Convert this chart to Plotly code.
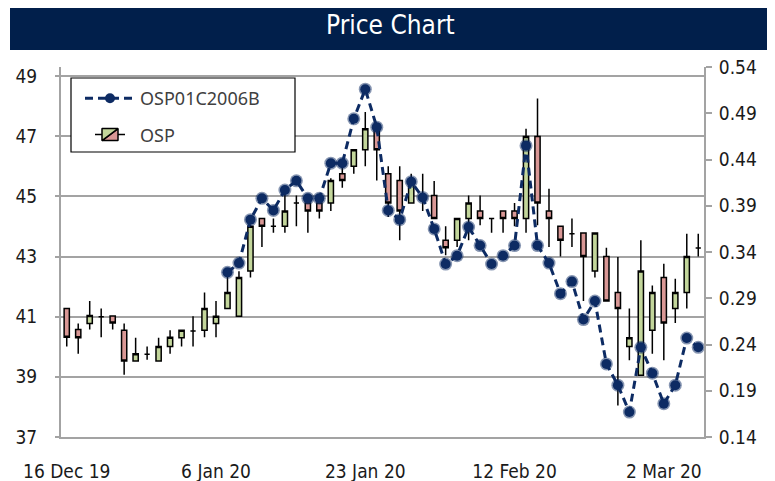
import plotly.graph_objects as go

# ---------------- data ----------------
dates = [
    "2019-12-16", "2019-12-17", "2019-12-18", "2019-12-19", "2019-12-20",
    "2019-12-23", "2019-12-24", "2019-12-26", "2019-12-27", "2019-12-30",
    "2019-12-31", "2020-01-02", "2020-01-03",
    "2020-01-06", "2020-01-07", "2020-01-08", "2020-01-09", "2020-01-10",
    "2020-01-13", "2020-01-14", "2020-01-15", "2020-01-16", "2020-01-17",
    "2020-01-20", "2020-01-21", "2020-01-22",
    "2020-01-23", "2020-01-24", "2020-01-28", "2020-01-29", "2020-01-30",
    "2020-01-31", "2020-02-03", "2020-02-04", "2020-02-05", "2020-02-06",
    "2020-02-07", "2020-02-10", "2020-02-11",
    "2020-02-12", "2020-02-13", "2020-02-14", "2020-02-17", "2020-02-18",
    "2020-02-19", "2020-02-20", "2020-02-21", "2020-02-24", "2020-02-25",
    "2020-02-26", "2020-02-27", "2020-02-28",
    "2020-03-02", "2020-03-03", "2020-03-04", "2020-03-05",
]

osp_open = [41.27, 40.57, 40.77, 41.00, 41.02, 40.55, 39.53, 39.75, 39.53, 40.01,
            40.30, 40.52, 40.55, 40.77, 41.27, 41.01, 42.52, 44.26, 44.01, 44.01,
            44.78, 44.78, 44.78, 44.78, 45.75, 46.00, 46.55, 47.25, 45.75, 45.53,
            44.78, 45.03, 45.03, 43.54, 43.54, 44.26, 44.51, 44.26, 44.51, 44.51,
            44.26, 46.99, 44.51, 44.01, 43.76, 43.78, 42.52, 43.00, 41.80, 40.01,
            39.05, 40.55, 42.30, 41.27, 41.80, 43.28]
osp_high = [41.27, 40.77, 41.52, 41.27, 41.02, 40.77, 40.30, 40.01, 40.30, 40.55,
            40.55, 41.01, 41.80, 41.52, 42.32, 42.51, 44.05, 44.26, 44.26, 45.25,
            45.03, 44.78, 44.78, 45.60, 46.00, 46.55, 47.80, 47.30, 46.00, 46.00,
            45.75, 45.75, 45.51, 44.01, 44.26, 45.03, 45.03, 44.26, 44.51, 44.78,
            47.25, 48.25, 45.25, 44.01, 44.26, 43.78, 43.78, 43.29, 42.98, 41.27,
            43.54, 42.04, 42.76, 42.26, 43.76, 43.76]
osp_low = [40.01, 39.77, 40.57, 40.32, 40.57, 39.07, 39.53, 39.57, 39.53, 39.77,
           40.01, 40.01, 40.32, 40.32, 41.27, 41.01, 42.30, 43.32, 43.79, 43.79,
           44.01, 43.79, 44.26, 44.51, 45.29, 45.75, 46.00, 45.53, 44.31, 43.54,
           44.78, 44.51, 44.26, 43.04, 43.32, 43.54, 44.04, 43.79, 43.79, 44.01,
           43.79, 44.04, 43.32, 43.00, 43.32, 41.52, 42.30, 41.52, 38.05, 39.55,
           39.05, 39.77, 39.55, 40.79, 41.27, 43.00]
osp_close = [40.32, 40.30, 41.04, 41.00, 40.79, 39.53, 39.77, 39.75, 40.01, 40.32,
             40.55, 40.52, 41.27, 41.01, 41.80, 42.30, 44.01, 44.01, 44.01, 44.51,
             44.78, 44.51, 44.51, 45.53, 45.53, 46.55, 47.25, 46.55, 44.78, 44.51,
             45.42, 45.03, 44.26, 43.29, 44.26, 44.78, 44.26, 44.26, 44.26, 44.26,
             46.99, 44.78, 44.26, 43.54, 43.76, 43.00, 43.78, 41.52, 41.27, 40.30,
             42.52, 41.80, 40.79, 41.80, 43.00, 43.28]

warrant = [None] * 14 + [
    0.318, 0.328, 0.375, 0.398, 0.385, 0.407, 0.417, 0.398, 0.398, 0.436,
    0.436, 0.484, 0.516, 0.475, 0.385, 0.375, 0.416, 0.399, 0.365, 0.327,
    0.336, 0.367, 0.347, 0.327, 0.336, 0.347, 0.455, 0.347, 0.328, 0.295,
    0.308, 0.267, 0.287, 0.219, 0.196, 0.167, 0.237, 0.209, 0.176, 0.196,
    0.247, 0.237]

tick_idx = [0, 13, 26, 39, 52]
tick_text = ["16 Dec 19", "6 Jan 20", "23 Jan 20", "12 Feb 20", "2 Mar 20"]
left_ticks = [37, 39, 41, 43, 45, 47, 49]
right_ticks = [0.14, 0.19, 0.24, 0.29, 0.34, 0.39, 0.44, 0.49, 0.54]

# ---------------- style / layout ----------------
# page body has an 8px default margin; size the figure so the visible
# window (775x481) matches the reference layout
OFF = 8
W, H = 775 - OFF, 481 - OFF
PLOT_L, PLOT_R, PLOT_T, PLOT_B = 61, 704, 67, 437          # reference page px
ML, MR = PLOT_L - OFF, W - (PLOT_R - OFF)
MT, MB = PLOT_T - OFF, H - (PLOT_B - OFF)
PW, PH = PLOT_R - PLOT_L, PLOT_B - PLOT_T


def px(x):
    return (x - PLOT_L) / PW


def py(y):
    return (PLOT_B - y) / PH


NAVY = "#0d2b63"
GRID = "#a3a3a3"
CONDENSED = "DejaVu Sans Condensed, Liberation Sans Narrow, Arial Narrow, sans-serif"
TICKFONT = dict(family=CONDENSED, size=19, color="#1a1a1a")

fig = go.Figure()

fig.add_trace(go.Scatter(
    x=dates, y=warrant, yaxis="y2", mode="markers", showlegend=False,
    marker=dict(color="rgba(13,43,99,0.5)", size=13, line=dict(width=0)),
    hoverinfo="skip", legendgroup="a",
))
fig.add_trace(go.Scatter(
    x=dates, y=warrant, name="OSP01C2006B", yaxis="y2",
    mode="lines+markers",
    line=dict(color=NAVY, width=3, dash="8px,5px"),
    marker=dict(color=NAVY, size=10, line=dict(width=0)),
    connectgaps=False, legendgroup="a",
))
fig.add_trace(go.Candlestick(
    x=dates, open=osp_open, high=osp_high, low=osp_low, close=osp_close,
    name="OSP", legendgroup="b",
    increasing=dict(line=dict(color="#000000", width=1.5), fillcolor="#c3d69b"),
    decreasing=dict(line=dict(color="#000000", width=1.5), fillcolor="#d99795"),
    whiskerwidth=0,
))

fig.update_layout(
    template="none",
    width=W, height=H,
    margin=dict(l=ML, r=MR, t=MT, b=MB, pad=0, autoexpand=False),
    paper_bgcolor="white", plot_bgcolor="white",
    showlegend=True,
    boxgap=0.35,
    xaxis=dict(
        type="category", range=[-0.5, len(dates) - 0.5], automargin=False,
        tickvals=[dates[i] for i in tick_idx], ticktext=tick_text,
        showgrid=False, showline=True, linecolor=GRID, linewidth=2,
        ticks="", tickfont=TICKFONT, ticklabelstandoff=16,
        rangeslider=dict(visible=False), fixedrange=True,
    ),
    yaxis=dict(
        range=[37, 49.3], tickvals=left_ticks, automargin=False,
        showgrid=True, gridcolor=GRID, gridwidth=2,
        showline=True, linecolor=GRID, linewidth=2,
        ticks="outside", ticklen=4, tickcolor=GRID, tickwidth=2,
        tickfont=TICKFONT, ticklabelstandoff=14, zeroline=False,
    ),
    yaxis2=dict(
        range=[0.14, 0.54], tickvals=right_ticks, tickformat=".2f", automargin=False,
        overlaying="y", side="right", showgrid=False,
        showline=True, linecolor=GRID, linewidth=2,
        ticks="outside", ticklen=6, tickcolor=GRID, tickwidth=2,
        tickfont=TICKFONT, ticklabelstandoff=3, zeroline=False,
    ),
    legend=dict(
        x=px(80), y=py(80), xanchor="left", yanchor="top",
        bgcolor="rgba(0,0,0,0)", borderwidth=0,
        font=dict(family="Noto Sans, Open Sans, sans-serif", size=18, color="#404040"),
        itemwidth=50, traceorder="grouped", tracegroupgap=10,
    ),
    shapes=[
        dict(type="rect", xref="paper", yref="paper",
             x0=px(10), x1=px(770), y0=py(50), y1=py(5),
             fillcolor="#011f4b", line=dict(width=0), layer="above"),
        dict(type="rect", xref="paper", yref="paper",
             x0=px(71), x1=px(295), y0=py(152), y1=py(78),
             fillcolor="white", line=dict(color="#000000", width=1.2), layer="above"),
    ],
    annotations=[
        dict(text="Price Chart", xref="paper", yref="paper",
             x=px(390), y=py(25), xanchor="center", yanchor="middle",
             showarrow=False,
             font=dict(family=CONDENSED, size=26, color="white")),
    ],
)

fig.write_html("out.html")
